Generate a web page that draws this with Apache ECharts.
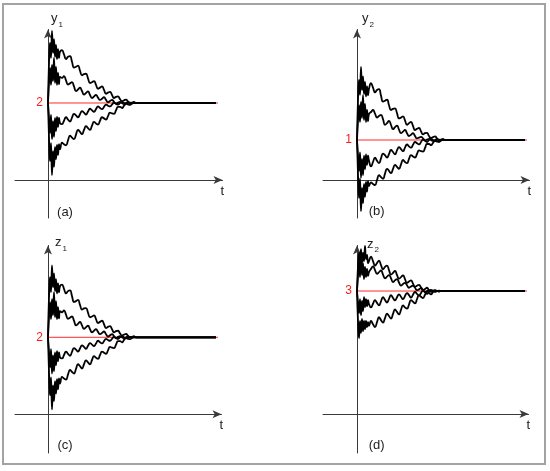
<!DOCTYPE html>
<html><head><meta charset="utf-8">
<script src="https://cdn.jsdelivr.net/npm/echarts@6/dist/echarts.min.js"></script>
<style>html,body{margin:0;padding:0;background:#fff}#c{width:550px;height:471px}</style>
</head><body><div id="c"></div>
<script>
// time samples (shared by all curves)
const t = [0,0.1,0.2,0.3,0.4,0.5,0.6,0.7,0.8,0.9,1.0,1.1,1.2,
  1.4,1.6,1.8,2.0,2.2,2.4,2.6,2.8,3.0,3.2,3.4,3.6,3.8,4.0,4.2,4.4,4.6,4.8,5.0,5.2,5.4,5.6,5.8,6.0,
  6.2,6.4,6.6,6.8,7.0,7.2,7.4,7.6,7.8,8.0,8.2,8.4,8.6,8.8,9.0,16.8];

// equilibrium values (red lines)
const eqValues = [2, 1, 2, 3];

// panel (a) y1 (panel (c) z1 is the same picture)
const a_uo = [2.00,3.04,3.56,3.17,3.87,3.30,3.66,3.20,3.51,3.14,3.40,3.17,3.33,
  3.37,3.26,3.14,3.20,3.22,3.07,2.92,2.94,2.97,2.84,2.72,2.75,2.76,2.64,2.52,2.54,2.57,2.47,2.37,2.40,2.43,2.34,2.24,2.27,2.29,2.21,2.13,2.16,2.17,2.10,2.05,2.07,2.09,2.04,2.00,2.01,2.02,2.00,2.00,2.00];
const a_ui = [2.00,2.52,2.91,2.47,2.99,2.57,3.17,2.52,2.94,2.47,2.78,2.49,2.68,
  2.65,2.70,2.59,2.48,2.51,2.54,2.43,2.31,2.35,2.40,2.31,2.22,2.26,2.30,2.21,2.13,2.17,2.21,2.14,2.08,2.11,2.15,2.08,2.02,2.05,2.08,2.03,1.98,2.01,2.03,2.00,1.97,2.00,2.02,2.00,1.99,2.00,2.00,2.00,2.00];
const a_li = [2.00,1.61,1.22,1.69,1.06,1.53,1.12,1.61,1.27,1.64,1.38,1.61,1.48,
  1.45,1.54,1.63,1.57,1.52,1.62,1.72,1.68,1.63,1.71,1.79,1.75,1.70,1.78,1.85,1.81,1.77,1.84,1.91,1.87,1.84,1.90,1.96,1.93,1.91,1.96,2.01,1.98,1.96,2.00,2.03,2.00,1.98,2.00,2.01,2.00,2.00,2.00,2.00,2.00];
const a_lo = [2.00,1.09,0.49,0.96,0.13,0.75,0.34,0.86,0.54,0.91,0.65,0.93,0.80,
  0.97,0.93,0.90,1.03,1.15,1.10,1.06,1.18,1.30,1.25,1.19,1.30,1.40,1.35,1.30,1.41,1.51,1.47,1.44,1.54,1.63,1.60,1.57,1.66,1.75,1.73,1.72,1.81,1.90,1.90,1.87,1.93,1.98,1.96,1.95,1.99,2.02,2.00,2.00,2.00];

// panel (b) y2
const b_uo = [1.00,2.00,2.50,2.13,2.83,2.25,2.59,2.15,2.45,2.09,2.34,2.12,2.28,
  2.42,2.31,2.19,2.25,2.27,2.11,1.96,1.98,2.01,1.87,1.75,1.78,1.79,1.67,1.54,1.56,1.59,1.49,1.38,1.42,1.45,1.35,1.25,1.28,1.30,1.22,1.14,1.17,1.18,1.10,1.05,1.07,1.09,1.04,1.00,1.01,1.02,1.00,1.00,1.00];
const b_ui = [1.00,1.50,1.87,1.45,1.95,1.55,2.12,1.50,1.90,1.45,1.75,1.47,1.65,
  1.70,1.75,1.66,1.56,1.60,1.63,1.52,1.38,1.42,1.48,1.38,1.27,1.32,1.36,1.26,1.17,1.21,1.25,1.17,1.10,1.13,1.17,1.10,1.04,1.06,1.08,1.04,0.99,1.01,1.03,1.00,0.98,1.00,1.02,1.00,0.99,1.00,1.00,1.00,1.00];
const b_li = [1.00,0.61,0.22,0.69,0.06,0.53,0.12,0.61,0.27,0.64,0.38,0.61,0.48,
  0.34,0.45,0.56,0.48,0.42,0.54,0.66,0.62,0.56,0.65,0.75,0.70,0.64,0.74,0.82,0.77,0.72,0.81,0.89,0.84,0.81,0.88,0.95,0.92,0.89,0.95,1.01,0.98,0.95,1.00,1.03,1.00,0.98,1.00,1.01,1.00,1.00,1.00,1.00,1.00];
const b_lo = [1.00,0.13,-0.45,0.04,-0.78,-0.20,-0.58,-0.10,-0.42,-0.05,-0.29,-0.03,-0.15,
  -0.06,-0.10,-0.13,0.00,0.12,0.07,0.03,0.16,0.28,0.23,0.17,0.28,0.38,0.33,0.28,0.39,0.50,0.45,0.42,0.53,0.62,0.59,0.56,0.65,0.74,0.72,0.71,0.80,0.90,0.90,0.87,0.93,0.98,0.96,0.95,0.99,1.02,1.00,1.00,1.00];

// panel (d) z2
const d_uo = [3.00,3.61,3.93,3.73,4.02,3.68,3.93,3.73,4.10,3.78,3.88,3.68,3.73,
  3.84,3.73,3.62,3.68,3.74,3.63,3.53,3.59,3.62,3.51,3.40,3.44,3.49,3.39,3.30,3.34,3.38,3.29,3.20,3.23,3.26,3.18,3.10,3.13,3.15,3.09,3.02,3.05,3.08,3.02,2.98,3.01,3.02,3.00,2.99,3.00,3.00,3.00,3.00,3.00];
const d_ui = [3.00,3.37,3.73,3.34,3.81,3.39,3.68,3.29,3.59,3.34,3.54,3.37,3.46,
  3.54,3.60,3.51,3.42,3.46,3.50,3.40,3.31,3.35,3.39,3.31,3.22,3.26,3.29,3.21,3.13,3.17,3.20,3.14,3.08,3.11,3.13,3.08,3.02,3.04,3.07,3.02,2.98,3.00,3.02,3.00,2.99,3.00,3.00,3.00,3.00,3.00,3.00,3.00,3.00];
const d_li = [3.00,2.71,2.46,2.80,2.41,2.76,2.51,2.85,2.61,2.80,2.63,2.78,2.68,
  2.60,2.69,2.78,2.71,2.65,2.75,2.85,2.78,2.72,2.81,2.90,2.83,2.77,2.85,2.92,2.86,2.80,2.88,2.95,2.90,2.84,2.91,2.98,2.93,2.89,2.95,3.01,2.97,2.93,2.99,3.03,3.00,2.98,3.00,3.01,3.00,3.00,3.00,3.00,3.00];
const d_lo = [3.00,2.27,1.85,2.27,1.98,2.32,2.02,2.27,2.07,2.27,2.12,2.24,2.15,
  2.27,2.19,2.12,2.24,2.36,2.29,2.23,2.34,2.45,2.39,2.33,2.44,2.55,2.49,2.43,2.54,2.65,2.60,2.57,2.67,2.78,2.74,2.70,2.80,2.90,2.86,2.83,2.91,2.99,2.95,2.92,2.98,3.01,3.00,2.99,3.00,3.00,3.00,3.00,3.00];

const redEnd = 17;
const panelLabels = ['(a)', '(b)', '(c)', '(d)'];
const yNames = [['y','1'], ['y','2'], ['z','1'], ['z','2']];
const curveSets = [[a_uo,a_ui,a_li,a_lo],[b_uo,b_ui,b_li,b_lo],[a_uo,a_ui,a_li,a_lo],[d_uo,d_ui,d_li,d_lo]];

// layout (pixels) and axis ranges per panel
const layout = [
  {left:15,  top:29.5,  width:207.5, height:188.5, xmin:-3.3, xmax:17.45, ymin:-0.987, ymax:3.909, yOff:-33, nameGap:11, namePad:3,  lx:65,    ly:212},
  {left:323, top:29.5,  width:206.5, height:188.5, xmin:-3.4, xmax:17.25, ymin:-0.95,  ymax:3.7625, yOff:-34, nameGap:11, namePad:5,  lx:376.7, ly:211.7},
  {left:15,  top:245.5, width:206.5, height:207.5, xmin:-3.3, xmax:17.35, ymin:-1.005, ymax:4.384, yOff:-33, nameGap:3, namePad:7, lx:65,   ly:445.7},
  {left:323, top:245.5, width:205.5, height:207.5, xmin:-3.4, xmax:17.15, ymin:-0.95,  ymax:4.11,  yOff:-34, nameGap:1.5, namePad:10, lx:376.7, ly:445.7}
];

const FONT = '"Liberation Sans", Arial, sans-serif';
const axisColor = '#3a3a3a';
const grids = [], xAxes = [], yAxes = [], series = [], graphics = [];

layout.forEach((L, i) => {
  grids.push({left: L.left, top: L.top, width: L.width, height: L.height, containLabel: false});
  xAxes.push({
    type: 'value', gridIndex: i, min: L.xmin, max: L.xmax,
    axisLine: {onZero: true, symbol: ['none', 'arrow'], symbolSize: [6, 9], lineStyle: {color: axisColor, width: 1}},
    axisTick: {show: false}, axisLabel: {show: false}, splitLine: {show: false},
    name: 't', nameLocation: 'end', nameGap: -2,
    nameTextStyle: {fontFamily: FONT, fontSize: 13, color: '#222', verticalAlign: 'top', align: 'left', padding: [5, 0, 0, 0]}
  });
  yAxes.push({
    type: 'value', gridIndex: i, min: L.ymin, max: L.ymax, offset: L.yOff,
    axisLine: {onZero: false, symbol: ['none', 'arrow'], symbolSize: [6, 9], lineStyle: {color: axisColor, width: 1}},
    axisTick: {show: false}, splitLine: {show: false},
    axisLabel: {customValues: [eqValues[i]], color: '#ff1a1a', fontSize: 12, fontFamily: FONT, margin: 5},
    name: '{m|' + yNames[i][0] + '}{s|' + yNames[i][1] + '}',
    nameLocation: 'end', nameGap: L.nameGap,
    nameTextStyle: {
      align: 'left', verticalAlign: 'middle', padding: [0, 0, 0, L.namePad],
      rich: {
        m: {fontFamily: FONT, fontSize: 13, color: '#222', lineHeight: 13},
        s: {fontFamily: FONT, fontSize: 8, color: '#222', lineHeight: 9, padding: [12, 0, 0, 1]}
      }
    }
  });
  series.push({
    type: 'line', xAxisIndex: i, yAxisIndex: i, showSymbol: false, symbol: 'none', silent: true,
    data: [[0, eqValues[i]], [redEnd, eqValues[i]]],
    lineStyle: {color: '#ff2a2a', width: 1}, z: 2
  });
  curveSets[i].forEach(arr => {
    series.push({
      type: 'line', xAxisIndex: i, yAxisIndex: i, showSymbol: false, symbol: 'none', silent: true,
      smooth: 0.5,
      data: t.map((tv, k) => [tv, arr[k]]),
      lineStyle: {color: '#000', width: 1.8}, z: 3
    });
  });
  graphics.push({
    type: 'text', x: L.lx, y: L.ly,
    style: {text: panelLabels[i], font: '13px ' + FONT, fill: '#222', align: 'center', verticalAlign: 'middle'}
  });
});

graphics.push({
  type: 'rect', shape: {x: 3, y: 4, width: 542, height: 460},
  style: {fill: 'none', stroke: '#a3a3a3', lineWidth: 2}, z: -1
});

const chart = echarts.init(document.getElementById('c'), null, {renderer: 'canvas'});
chart.setOption({
  animation: false,
  backgroundColor: '#fff',
  grid: grids, xAxis: xAxes, yAxis: yAxes, series: series, graphic: graphics
});
</script></body></html>
